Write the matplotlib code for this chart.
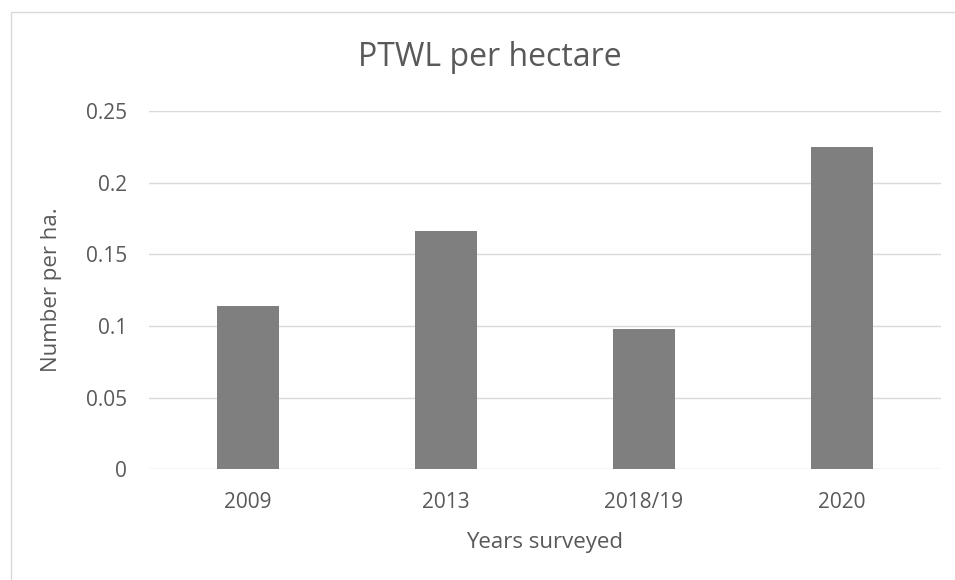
import matplotlib
matplotlib.use("Agg")
import matplotlib.pyplot as plt
from matplotlib.patches import Rectangle

# data
years = ["2009", "2013", "2018/19", "2020"]
per_ha = [0.114, 0.166, 0.098, 0.225]
y_ticks = [0, 0.05, 0.1, 0.15, 0.2, 0.25]
y_tick_labels = ["0", "0.05", "0.1", "0.15", "0.2", "0.25"]

plt.rcParams['font.family'] = ['Open Sans', 'DejaVu Sans']
text_col = '#595959'
grid_col = '#d9d9d9'

fig = plt.figure(figsize=(9.55, 5.8), dpi=100)
ax = fig.add_axes([149/955, 1 - 469.3/580, 792/955, 358.3/580])

x = list(range(len(years)))
ax.bar(x, per_ha, width=0.313, color='#7f7f7f', zorder=3)

ax.set_xlim(-0.5, len(years) - 0.5)
ax.set_ylim(0, 0.25)
ax.set_yticks(y_ticks)
ax.set_yticklabels(y_tick_labels)
ax.set_xticks(x)
ax.set_xticklabels(years)

ax.yaxis.grid(True, color=grid_col, linewidth=1.0, zorder=0)
ax.set_axisbelow(True)
for s in ax.spines.values():
    s.set_visible(False)
ax.tick_params(axis='both', length=0, labelsize=15, labelcolor=text_col)
ax.tick_params(axis='y', pad=16)
ax.tick_params(axis='x', pad=16)

ax.set_ylabel("Number per ha.", fontsize=16, color=text_col)
ax.yaxis.set_label_coords(-0.11, 0.5)
ax.set_xlabel("Years surveyed", fontsize=16, color=text_col, va='center')
ax.xaxis.set_label_coords(0.5, -0.203)

fig.text(490/955, 1 - 57/580, "PTWL per hectare", fontsize=23,
         color=text_col, ha='center', va='center')

# chart area border (runs off the right and bottom of the image)
fig.add_artist(Rectangle((11/955, -0.5), 2, 0.5 + 1 - 12/580,
                         transform=fig.transFigure, fill=False,
                         edgecolor=grid_col, linewidth=1.0))

fig.savefig("out.png", dpi=100)
